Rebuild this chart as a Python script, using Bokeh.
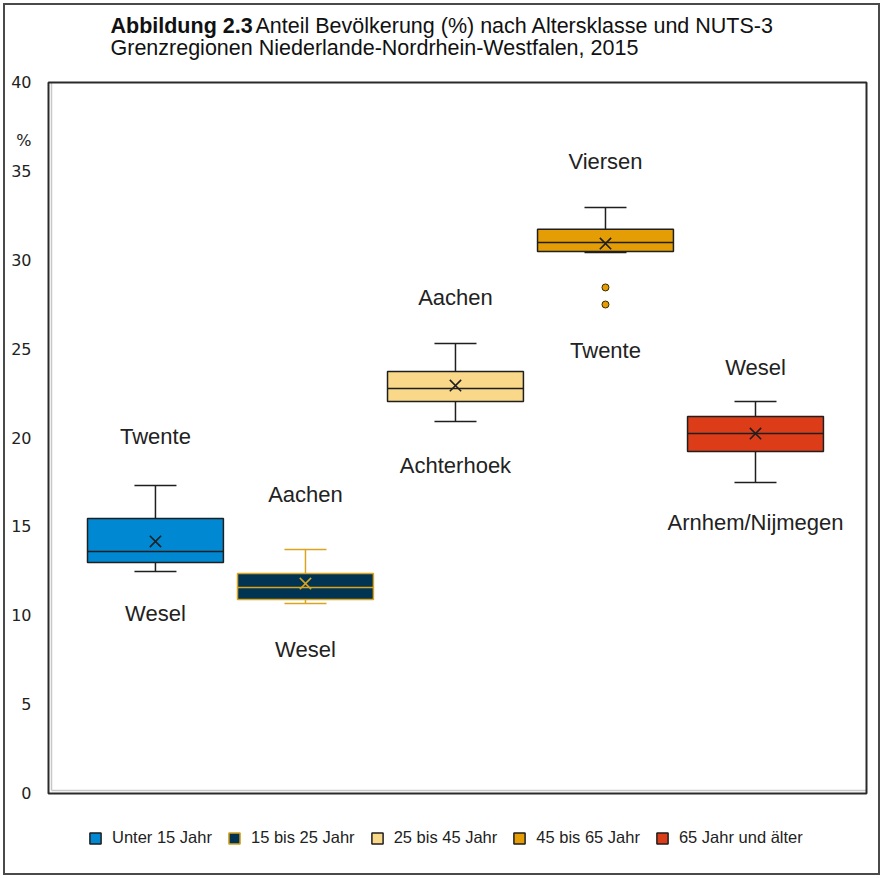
from bokeh.plotting import figure
from bokeh.models import Legend, LegendItem, FixedTicker, ColumnDataSource, Range1d, CustomJSTickFormatter
from bokeh.core.properties import value
from bokeh.embed import file_html
from bokeh.resources import INLINE

# ---------------- data ----------------
groups = ["Unter 15 Jahr", "15 bis 25 Jahr", "25 bis 45 Jahr", "45 bis 65 Jahr", "65 Jahr und älter"]
whisker_high = [17.33, 13.73, 25.32, 32.97, 22.05]
q3 = [15.47, 12.38, 23.74, 31.74, 21.21]
median = [13.61, 11.59, 22.78, 31.00, 20.25]
q1 = [13.00, 10.91, 22.05, 30.49, 19.24]
whisker_low = [12.49, 10.69, 20.93, 30.44, 17.50]
mean = [14.18, 11.81, 22.95, 30.94, 20.25]
outlier_group = [4, 4]
outlier_value = [28.47, 27.51]
label_top = ["Twente", "Aachen", "Aachen", "Viersen", "Wesel"]
label_top_y = [20.08, 16.82, 27.90, 35.56, 23.97]
label_bottom = ["Wesel", "Wesel", "Achterhoek", "Twente", "Arnhem/Nijmegen"]
label_bottom_y = [10.13, 8.10, 18.45, 24.92, 15.25]
y_ticks = [0, 5, 10, 15, 20, 25, 30, 35, 40]
unit_tick = 36.75
title_bold = "Abbildung 2.3"
title_line1 = "Anteil Bevölkerung (%) nach Altersklasse und NUTS-3"
title_line2 = "Grenzregionen Niederlande-Nordrhein-Westfalen, 2015"

fill_colors = ["#0088D2", "#003452", "#F9D88A", "#E59D05", "#DC3C18"]
edge_colors = ["#1f1f1f", "#D9A521", "#1f1f1f", "#1f1f1f", "#1f1f1f"]

# ---------------- geometry (pixels) ----------------
W, H = 877, 872
ML, MR = 40, 13           # frame borders (axis on the left)
X_LO, X_HI = 0.287, 5.74  # category axis extent shown by the plot box
Y_LO, Y_HI = 0, 40
BOX_W_PX = 818            # plot-box width in px
BOX_H_PX = 711            # plot-box height in px
BOX_TOP_PX = 77           # plot-box top from canvas top
BOX_BOTTOM_PX = 84        # canvas bottom minus plot-box bottom
PAD = 3                   # gap between frame edge and plot box

ppx = BOX_W_PX / (X_HI - X_LO)
ppy = BOX_H_PX / (Y_HI - Y_LO)
x_range = Range1d(X_LO - PAD / ppx, X_HI + PAD / ppx)
y_range = Range1d(Y_LO - BOX_BOTTOM_PX / ppy, Y_HI + BOX_TOP_PX / ppy)

xs = [i + 1 for i in range(len(groups))]
box_half = 0.453
cap_half = 0.14

src = ColumnDataSource(dict(
    x=xs, group=groups, wh=whisker_high, q3=q3, med=median, q1=q1, wl=whisker_low, mean=mean,
    left=[x - box_half for x in xs], right=[x + box_half for x in xs],
    cl=[x - cap_half for x in xs], cr=[x + cap_half for x in xs],
    fill=fill_colors, edge=edge_colors,
    lt=label_top, lty=label_top_y, lb=label_bottom, lby=label_bottom_y,
))

p = figure(width=W, height=H, output_backend="svg", toolbar_location=None,
           x_range=x_range, y_range=y_range, x_axis_location=None,
           min_border_left=ML, min_border_right=MR, min_border_top=0, min_border_bottom=0,
           styles={"margin": "3px", "border": "2px solid #4a4a4a"})
p.xgrid.visible = False
p.ygrid.visible = False
p.outline_line_color = None
p.background_fill_color = "white"
p.border_fill_color = "white"

yax = p.yaxis[0]
yax.ticker = FixedTicker(ticks=y_ticks + [unit_tick])
yax.formatter = CustomJSTickFormatter(
    args=dict(u=unit_tick),
    code="return Math.abs(tick - u) < 1e-6 ? '%' : String(Math.round(tick));")
yax.axis_line_color = None
yax.major_tick_line_color = None
yax.minor_tick_line_color = None
yax.major_label_standoff = 8
yax.major_label_text_font = "DejaVu Sans"
yax.major_label_text_font_size = "16px"
yax.major_label_text_color = "#222222"

# plot box (dark frame with a light inner shadow on left and bottom)
p.segment(x0=[X_LO + PAD / ppx, X_LO + PAD / ppx], y0=[Y_HI, Y_LO + PAD / ppy],
          x1=[X_LO + PAD / ppx, X_HI], y1=[Y_LO + PAD / ppy, Y_LO + PAD / ppy],
          line_color="#c8c8c8", line_width=1.5)
p.quad(left=[X_LO], right=[X_HI], bottom=[Y_LO], top=[Y_HI], fill_color=None,
       line_color="#2a2a2a", line_width=2)

# whiskers
p.segment(x0="x", y0="q3", x1="x", y1="wh", source=src, line_color="edge", line_width=1.5)
p.segment(x0="x", y0="q1", x1="x", y1="wl", source=src, line_color="edge", line_width=1.5)
p.segment(x0="cl", y0="wh", x1="cr", y1="wh", source=src, line_color="edge", line_width=1.5)
p.segment(x0="cl", y0="wl", x1="cr", y1="wl", source=src, line_color="edge", line_width=1.5)

# boxes
boxes = p.quad(left="left", right="right", bottom="q1", top="q3", source=src,
               fill_color="fill", line_color="edge", line_width=1.5)
# medians
p.segment(x0="left", y0="med", x1="right", y1="med", source=src, line_color="edge", line_width=1.5)
# means
p.scatter(x="x", y="mean", source=src, marker="x", size=16, line_color="edge", line_width=1.6)

# outliers
p.scatter(x=[xs[g - 1] for g in outlier_group], y=outlier_value, marker="circle", size=7,
          fill_color=fill_colors[3], line_color="#3a2a00", line_width=1)

# region labels
p.text(x="x", y="lty", text="lt", source=src, text_align="center", text_baseline="middle",
       text_font=value("Liberation Sans"), text_font_size="22px", text_color="#222222")
p.text(x="x", y="lby", text="lb", source=src, text_align="center", text_baseline="middle",
       text_font=value("Liberation Sans"), text_font_size="22px", text_color="#222222")

# title (anchored to the top-left corner of the plot box, offsets in px)
p.text(x=[X_LO], y=[Y_HI], text=[title_bold], x_offset=62, y_offset=-57,
       text_font=value("Liberation Sans"), text_font_style="bold",
       text_font_size="21.5px", text_color="#111111", text_baseline="alphabetic")
p.text(x=[X_LO], y=[Y_HI], text=[title_line1], x_offset=207, y_offset=-57,
       text_font=value("Liberation Sans"),
       text_font_size="21.5px", text_color="#111111", text_baseline="alphabetic")
p.text(x=[X_LO], y=[Y_HI], text=[title_line2], x_offset=62, y_offset=-35,
       text_font=value("Liberation Sans"),
       text_font_size="21.5px", text_color="#111111", text_baseline="alphabetic")

# legend
items = [LegendItem(label=g, renderers=[boxes], index=i) for i, g in enumerate(groups)]
legend = Legend(items=items, location=(43, 30), orientation="horizontal",
                glyph_width=14, glyph_height=14, label_standoff=10, spacing=15,
                padding=0, margin=0, border_line_color=None, background_fill_alpha=0,
                label_text_font="Liberation Sans", label_text_font_size="16.5px",
                label_text_color="#222222", label_height=16)
p.add_layout(legend)

open("out.html", "w").write(file_html(p, INLINE))
